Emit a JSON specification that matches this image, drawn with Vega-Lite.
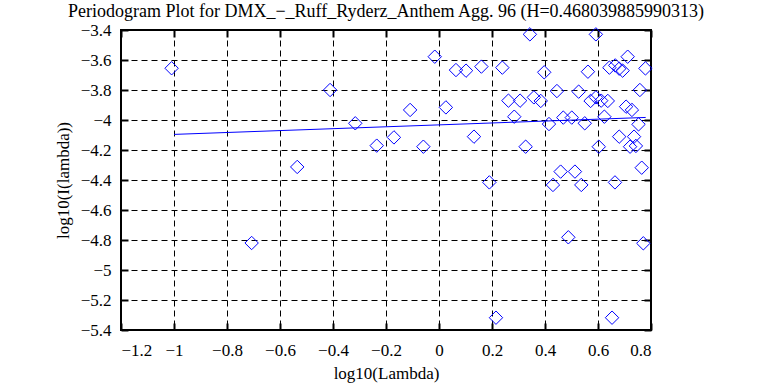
{
  "$schema": "https://vega.github.io/schema/vega-lite/v6.json",
  "width": 530,
  "height": 300,
  "autosize": {"type": "none"},
  "padding": {"left": 121, "top": 30, "right": 118, "bottom": 55},
  "background": "white",
  "title": {
    "text": "Periodogram Plot for DMX_−_Ruff_Ryderz_Anthem Agg. 96 (H=0.468039885990313)",
    "font": "Liberation Serif",
    "fontSize": 18,
    "fontWeight": "normal",
    "color": "black",
    "anchor": "middle",
    "offset": 0
  },
  "config": {
    "view": {"stroke": "black", "strokeWidth": 2},
    "axis": {
      "labelFont": "Liberation Serif",
      "labelFontSize": 17,
      "labelColor": "black",
      "titleFont": "Liberation Serif",
      "titleFontSize": 17,
      "titleFontWeight": "normal",
      "titleColor": "black",
      "domain": false,
      "tickColor": "black",
      "tickWidth": 2,
      "tickSize": -7,
      "gridColor": "black",
      "gridDash": [6, 4],
      "gridWidth": 1,
      "gridOpacity": 1
    }
  },
  "datasets": {
    "pts": [
      {"x": -1.009, "y": -3.655}, {"x": -0.707, "y": -4.82}, {"x": -0.535, "y": -4.313},
      {"x": -0.411, "y": -3.8}, {"x": -0.316, "y": -4.022}, {"x": -0.235, "y": -4.171},
      {"x": -0.17, "y": -4.116}, {"x": -0.109, "y": -3.933}, {"x": -0.059, "y": -4.178},
      {"x": -0.016, "y": -3.578}, {"x": 0.026, "y": -3.916}, {"x": 0.064, "y": -3.667},
      {"x": 0.102, "y": -3.671}, {"x": 0.132, "y": -4.111}, {"x": 0.16, "y": -3.644},
      {"x": 0.19, "y": -4.416}, {"x": 0.215, "y": -5.318}, {"x": 0.239, "y": -3.651},
      {"x": 0.262, "y": -3.871}, {"x": 0.284, "y": -3.978}, {"x": 0.306, "y": -3.871},
      {"x": 0.327, "y": -4.178}, {"x": 0.343, "y": -3.429}, {"x": 0.358, "y": -3.849},
      {"x": 0.384, "y": -3.873}, {"x": 0.397, "y": -3.682}, {"x": 0.415, "y": -4.027},
      {"x": 0.43, "y": -4.433}, {"x": 0.445, "y": -3.807}, {"x": 0.459, "y": -4.344},
      {"x": 0.469, "y": -3.984}, {"x": 0.488, "y": -4.782}, {"x": 0.501, "y": -3.984},
      {"x": 0.513, "y": -4.344}, {"x": 0.527, "y": -3.811}, {"x": 0.537, "y": -4.433},
      {"x": 0.55, "y": -4.022}, {"x": 0.562, "y": -3.678}, {"x": 0.572, "y": -3.873},
      {"x": 0.592, "y": -3.849}, {"x": 0.592, "y": -3.429}, {"x": 0.603, "y": -4.178},
      {"x": 0.612, "y": -3.871}, {"x": 0.624, "y": -3.978}, {"x": 0.637, "y": -3.873},
      {"x": 0.643, "y": -3.651}, {"x": 0.653, "y": -5.318}, {"x": 0.664, "y": -4.416},
      {"x": 0.665, "y": -3.636}, {"x": 0.68, "y": -3.658}, {"x": 0.68, "y": -4.111},
      {"x": 0.693, "y": -3.671}, {"x": 0.706, "y": -3.911}, {"x": 0.712, "y": -3.578},
      {"x": 0.721, "y": -4.178}, {"x": 0.728, "y": -3.933}, {"x": 0.736, "y": -4.111},
      {"x": 0.743, "y": -4.173}, {"x": 0.753, "y": -4.029}, {"x": 0.758, "y": -3.8},
      {"x": 0.765, "y": -4.318}, {"x": 0.771, "y": -4.822}, {"x": 0.779, "y": -3.656}
    ],
    "fit": [
      {"x": -1.0, "y": -4.096},
      {"x": 0.78, "y": -3.983}
    ]
  },
  "layer": [
    {
      "data": {"name": "pts"},
      "mark": {"type": "point", "shape": "diamond", "filled": false, "color": "#0000ff", "size": 180, "strokeWidth": 1, "opacity": 1},
      "encoding": {
        "x": {
          "field": "x", "type": "quantitative",
          "scale": {"domain": [-1.2, 0.8], "nice": false, "zero": false},
          "axis": {"orient": "bottom", "values": [-1.2, -1, -0.8, -0.6, -0.4, -0.2, 0, 0.2, 0.4, 0.6, 0.8], "format": "~f", "grid": true, "labelFont": "Liberation Serif", "labelFontSize": 17, "labelPadding": 19, "title": "log10(Lambda)", "titlePadding": 7}
        },
        "y": {
          "field": "y", "type": "quantitative",
          "scale": {"domain": [-5.4, -3.4], "nice": false, "zero": false},
          "axis": {"orient": "left", "values": [-5.4, -5.2, -5, -4.8, -4.6, -4.4, -4.2, -4, -3.8, -3.6, -3.4], "format": "~f", "grid": true, "labelFont": "Liberation Serif", "labelFontSize": 17, "labelPadding": 17, "title": "log10(I(lambda))", "titlePadding": 8}
        }
      }
    },
    {
      "data": {"name": "fit"},
      "mark": {"type": "line", "color": "#0000ff", "strokeWidth": 1},
      "encoding": {
        "x": {"field": "x", "type": "quantitative", "axis": null},
        "y": {"field": "y", "type": "quantitative", "axis": null}
      }
    },
    {
      "data": {"name": "fit"},
      "mark": {"type": "point", "opacity": 0},
      "encoding": {
        "x": {
          "field": "x", "type": "quantitative",
          "axis": {"orient": "top", "values": [-1.2, -1, -0.8, -0.6, -0.4, -0.2, 0, 0.2, 0.4, 0.6, 0.8], "labels": false, "grid": false, "title": null}
        },
        "y": {
          "field": "y", "type": "quantitative",
          "axis": {"orient": "right", "values": [-5.4, -5.2, -5, -4.8, -4.6, -4.4, -4.2, -4, -3.8, -3.6, -3.4], "labels": false, "grid": false, "title": null}
        }
      }
    }
  ],
  "resolve": {"axis": {"x": "independent", "y": "independent"}}
}
